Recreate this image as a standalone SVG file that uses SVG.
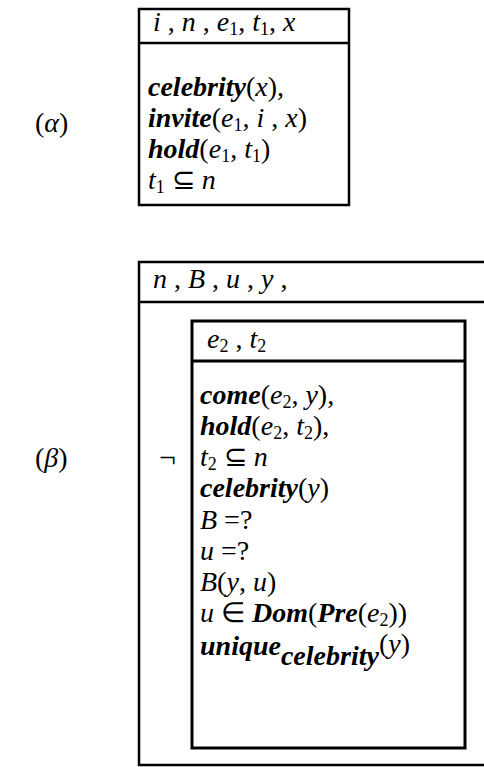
<svg xmlns="http://www.w3.org/2000/svg" width="484" height="767" viewBox="0 0 484 767">
<style>
.t{font-family:"Liberation Serif","Times New Roman",serif;font-size:28px;fill:#000}
.f{font-style:italic;font-weight:bold}
.v{font-style:italic}
.s{font-size:18px}
.b{fill:none;stroke:#000;stroke-width:2.5}
.bi{fill:none;stroke:#000;stroke-width:3}
</style>
<rect width="484" height="767" fill="#fff"/>
<g id="alpha">
<text class="t" x="35" y="132">(<tspan class="v">α</tspan>)</text>
<rect class="b" x="139" y="9" width="210" height="196"/>
<line class="b" x1="139" y1="43" x2="349" y2="43"/>
<text class="t" x="153" y="31"><tspan class="v">i</tspan> , <tspan class="v">n</tspan> , <tspan class="v">e</tspan><tspan class="s" dy="4">1</tspan><tspan dy="-4">, </tspan><tspan class="v">t</tspan><tspan class="s" dy="4">1</tspan><tspan dy="-4">, </tspan><tspan class="v">x</tspan></text>
<text class="t" x="148" y="96"><tspan class="f">celebrity</tspan>(<tspan class="v">x</tspan>),</text>
<text class="t" x="148" y="127"><tspan class="f">invite</tspan>(<tspan class="v">e</tspan><tspan class="s" dy="4">1</tspan><tspan dy="-4">, </tspan><tspan class="v">i</tspan> , <tspan class="v">x</tspan>)</text>
<text class="t" x="148" y="158"><tspan class="f">hold</tspan>(<tspan class="v">e</tspan><tspan class="s" dy="4">1</tspan><tspan dy="-4">, </tspan><tspan class="v">t</tspan><tspan class="s" dy="4">1</tspan><tspan dy="-4">)</tspan></text>
<text class="t" x="148" y="189"><tspan class="v">t</tspan><tspan class="s" dy="4">1</tspan><tspan dy="-4"> ⊆ </tspan><tspan class="v">n</tspan></text>
</g>
<g id="beta">
<text class="t" x="35" y="467">(<tspan class="v">β</tspan>)</text>
<path class="b" d="M490,262 H139 V765 H490"/>
<line class="b" x1="139" y1="302" x2="490" y2="302"/>
<text class="t" x="153" y="288"><tspan class="v">n</tspan> , <tspan class="v">B</tspan> , <tspan class="v">u</tspan> , <tspan class="v">y</tspan> ,</text>
<text class="t" x="159" y="467" style="font-size:30px">¬</text>
</g>
<g id="inner">
<rect class="bi" x="192" y="321" width="273" height="427"/>
<line class="bi" x1="192" y1="361" x2="465" y2="361"/>
<text class="t" x="207" y="348"><tspan class="v">e</tspan><tspan class="s" dy="4">2</tspan><tspan dy="-4"> , </tspan><tspan class="v">t</tspan><tspan class="s" dy="4">2</tspan></text>
<text class="t" x="200" y="404"><tspan class="f">come</tspan>(<tspan class="v">e</tspan><tspan class="s" dy="4">2</tspan><tspan dy="-4">, </tspan><tspan class="v">y</tspan>),</text>
<text class="t" x="200" y="435"><tspan class="f">hold</tspan>(<tspan class="v">e</tspan><tspan class="s" dy="4">2</tspan><tspan dy="-4">, </tspan><tspan class="v">t</tspan><tspan class="s" dy="4">2</tspan><tspan dy="-4">),</tspan></text>
<text class="t" x="200" y="466"><tspan class="v">t</tspan><tspan class="s" dy="4">2</tspan><tspan dy="-4"> ⊆ </tspan><tspan class="v">n</tspan></text>
<text class="t" x="200" y="497"><tspan class="f">celebrity</tspan>(<tspan class="v">y</tspan>)</text>
<text class="t" x="200" y="529"><tspan class="v">B</tspan> =?</text>
<text class="t" x="200" y="560"><tspan class="v">u</tspan> =?</text>
<text class="t" x="200" y="591"><tspan class="v">B</tspan>(<tspan class="v">y</tspan>, <tspan class="v">u</tspan>)</text>
<text class="t" x="200" y="622"><tspan class="v">u</tspan> ∈ <tspan class="f">Dom</tspan>(<tspan class="f">Pre</tspan>(<tspan class="v">e</tspan><tspan class="s" dy="4">2</tspan><tspan dy="-4">))</tspan></text>
<text class="t" x="200" y="655"><tspan class="f">unique</tspan><tspan class="f" dy="10">celebrity</tspan><tspan dy="-12">(<tspan class="v">y</tspan>)</tspan></text>
</g>
</svg>
